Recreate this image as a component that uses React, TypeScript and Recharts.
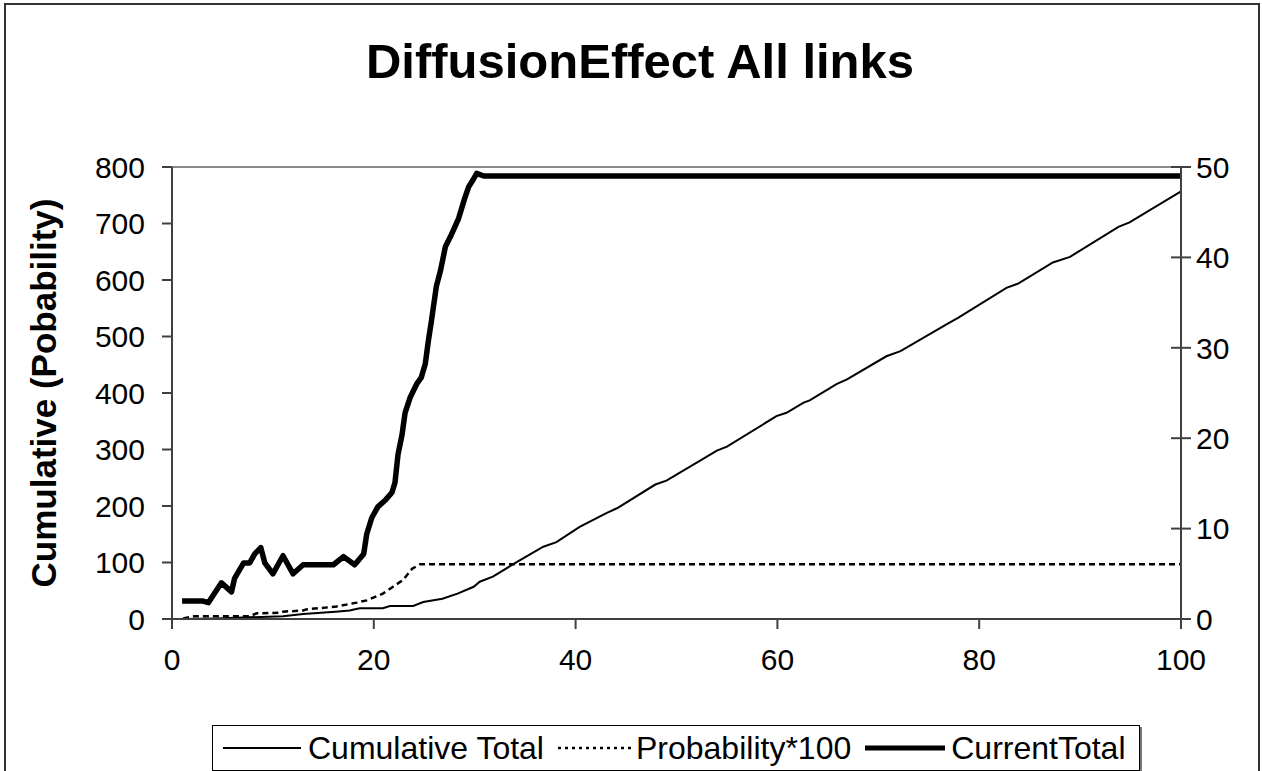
import React from "react";
import { LineChart, Line, XAxis, YAxis, ReferenceLine, Legend } from "recharts";

// x positions + values
const cumX = [1, 4.4, 11, 13, 16.2, 17.6, 18.6, 20.9, 21.6, 23.9, 24.9, 26.8, 28.3, 29.9, 30.5, 31.8, 34.2, 36.8, 38.1, 40.4, 43.1, 44.1, 47.9, 49, 52.3, 54, 55, 59.9, 60.9, 62.6, 63.2, 65.9, 66.9, 70.8, 72.2, 76.8, 77.9, 82.7, 83.9, 87.3, 89, 93.8, 94.9, 100];
const cumTotal = [0, 1, 5, 9, 13, 15, 19, 19, 23, 23, 30, 36, 45, 57, 66, 75, 101, 128, 136, 163, 188, 196, 238, 245, 280, 298, 305, 359, 365, 383, 387, 416, 424, 465, 474, 522, 533, 586, 594, 631, 641, 694, 702, 757];

const probX = [1.1, 2.3, 7.7, 8.4, 10.7, 11, 13, 13.3, 16.3, 18.3, 19.3, 20.9, 21.9, 22.9, 23.8, 24.6, 100];
const prob100 = [1, 5, 5, 10, 11, 13, 15, 17, 22, 29, 33, 45, 57, 69, 89, 97, 97];

const curX = [1, 3, 3.6, 4.9, 5.9, 6.2, 7.1, 7.7, 8.2, 8.8, 9.2, 10, 11, 12, 13, 16, 17, 18.1, 19, 19.3, 19.8, 20.4, 21.1, 21.8, 22.1, 22.4, 22.8, 23.1, 23.6, 24.25, 24.7, 25.1, 25.4, 25.7, 26.2, 26.6, 27.1, 27.6, 28.4, 29, 29.4, 29.9, 30.2, 30.9, 100];
const curTotal = [2, 2, 1.8, 4, 3, 4.5, 6.2, 6.2, 7.2, 7.9, 6.2, 5, 7, 5, 6, 6, 6.9, 6, 7.2, 9.4, 11.2, 12.4, 13.1, 14, 15.1, 18.2, 20.4, 22.8, 24.5, 26, 26.7, 28.2, 30.7, 32.9, 36.8, 38.5, 41.2, 42.3, 44.3, 46.5, 47.8, 48.7, 49.3, 49, 49];

const xTicks = [0, 20, 40, 60, 80, 100];
const leftTicks = [0, 100, 200, 300, 400, 500, 600, 700, 800];
const rightTicks = [0, 10, 20, 30, 40, 50];

const cumData = cumX.map((x, i) => ({ x, v: cumTotal[i] }));
const probData = probX.map((x, i) => ({ x, v: prob100[i] }));
const curData = curX.map((x, i) => ({ x, v: curTotal[i] }));

const FONT = "'Liberation Sans', Arial, sans-serif";
const AXIS = "#404040";

const RightTick = (props: any) => {
  const { x, y, payload } = props;
  return (
    <g>
      <line x1={x - 10} x2={x + 10} y1={y} y2={y} stroke={AXIS} strokeWidth={2} />
      <text x={x + 15} y={y} dy="0.36em" fontSize={30} fill="#000" fontFamily={FONT}>
        {payload.value}
      </text>
    </g>
  );
};

const legendItems = [
  { name: "Cumulative Total", width: 2, len: 78, gap: 7, dash: undefined as string | undefined },
  { name: "Probability*100", width: 2.5, len: 74, gap: 4, dash: "3 4" },
  { name: "CurrentTotal", width: 5, len: 80, gap: 6, dash: undefined },
];

const LegendBox = () => (
  <div
    style={{
      boxSizing: "border-box",
      width: 928,
      height: 46,
      border: "1px solid #000",
      boxShadow: "2px 2px 0 #777",
      background: "#fff",
      display: "flex",
      alignItems: "center",
      paddingLeft: 10,
      fontFamily: FONT,
      fontSize: 32,
      color: "#000",
      whiteSpace: "nowrap",
    }}
  >
    {legendItems.map((it) => (
      <div key={it.name} style={{ display: "flex", alignItems: "center", marginRight: 14 }}>
        <svg width={it.len} height={10}>
          <line x1={0} x2={it.len} y1={5} y2={5} stroke="#000" strokeWidth={it.width} strokeDasharray={it.dash} />
        </svg>
        <span style={{ marginLeft: it.gap }}>{it.name}</span>
      </div>
    ))}
  </div>
);

export default function App() {
  return (
    <div style={{ position: "fixed", left: 0, top: 0, width: 1262, height: 771, overflow: "hidden", background: "#fff", fontFamily: FONT }}>
      <div style={{ position: "absolute", left: 4, top: 3, width: 1256, height: 800, border: "2px solid #333", boxSizing: "border-box" }} />
      <div style={{ position: "absolute", left: 9, top: 37, width: 1262, textAlign: "center", fontSize: 49, lineHeight: "49px", fontWeight: "bold", color: "#000" }}>
        DiffusionEffect All links
      </div>
      <LineChart width={1262} height={771} margin={{ top: 167, right: 0, bottom: 112, left: 0 }} style={{ position: "absolute", left: 0, top: 0 }}>
        <XAxis
          dataKey="x"
          type="number"
          domain={[0, 100]}
          ticks={xTicks}
          height={40}
          tickSize={10}
          tickMargin={20}
          axisLine={{ stroke: AXIS, strokeWidth: 2 }}
          tickLine={{ stroke: AXIS, strokeWidth: 2 }}
          tick={{ fontSize: 30, fill: "#000", fontFamily: FONT }}
        />
        <YAxis
          yAxisId="left"
          type="number"
          domain={[0, 800]}
          ticks={leftTicks}
          width={172}
          tickSize={10}
          tickMargin={17}
          axisLine={{ stroke: AXIS, strokeWidth: 2 }}
          tickLine={{ stroke: AXIS, strokeWidth: 2 }}
          tick={{ fontSize: 30, fill: "#000", fontFamily: FONT }}
          label={{
            content: () => (
              <text x={43} y={393} transform="rotate(-90 43 393)" textAnchor="middle" dominantBaseline="central" fontSize={35} fontWeight="bold" fontFamily={FONT} fill="#000">
                Cumulative (Pobability)
              </text>
            ),
          }}
        />
        <YAxis
          yAxisId="right"
          orientation="right"
          type="number"
          domain={[0, 50]}
          ticks={rightTicks}
          width={81}
          tickSize={0}
          tickMargin={0}
          axisLine={{ stroke: AXIS, strokeWidth: 2 }}
          tickLine={false}
          tick={<RightTick />}
        />
        <ReferenceLine yAxisId="left" y={800} stroke="#8c8c8c" strokeWidth={2} />
        <Line yAxisId="left" data={cumData} dataKey="v" name="Cumulative Total" type="linear" stroke="#000" strokeWidth={2} dot={false} isAnimationActive={false} />
        <Line yAxisId="left" data={probData} dataKey="v" name="Probability*100" type="linear" stroke="#000" strokeWidth={2.5} strokeDasharray="6 4" dot={false} isAnimationActive={false} />
        <Line yAxisId="right" data={curData} dataKey="v" name="CurrentTotal" type="linear" stroke="#000" strokeWidth={5.5} strokeLinejoin="round" dot={false} isAnimationActive={false} />
        <Legend
          layout="horizontal"
          verticalAlign="middle"
          align="center"
          content={() => <LegendBox />}
          wrapperStyle={{ left: 212, top: 725, width: 928, height: 46 }}
        />
      </LineChart>
    </div>
  );
}
